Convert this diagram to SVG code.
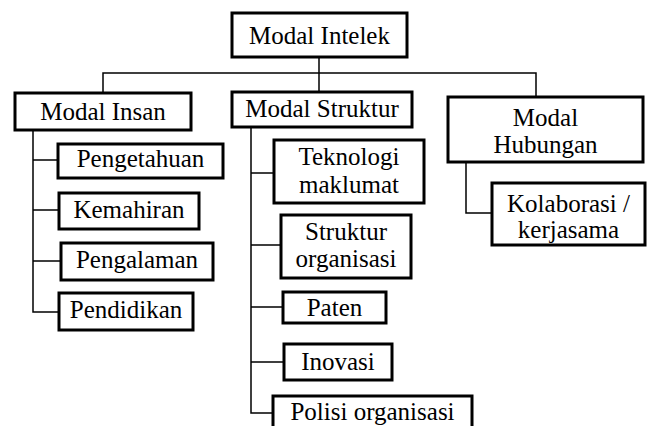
<svg xmlns="http://www.w3.org/2000/svg" width="657" height="426" viewBox="0 0 657 426">
<style>
.box{fill:#fff;stroke:#000;stroke-width:3}
.ln{fill:none;stroke:#000;stroke-width:1.5}
.t{font-family:Liberation Serif,Tinos,Times New Roman,Times,DejaVu Serif,serif;font-size:25px;fill:#000;text-anchor:middle}
</style>
<rect width="657" height="426" fill="#fff"/>
<g id="connectors">
<path class="ln" d="M319,57 V92 M103,93 V73 H536 V97"/>
<path class="ln" d="M33,130 V312 H59 M33,160 H58 M33,210 H59 M33,261 H61"/>
<path class="ln" d="M251,127 V413 H273 M251,173 H274 M251,245 H281 M251,307 H283 M251,362 H284"/>
<path class="ln" d="M466,162 V213 H492"/>
</g>
<g id="modal-intelek"><rect class="box" x="232" y="13" width="175" height="44"/><text class="t" font-family="Liberation Serif" x="319.5" y="44">Modal Intelek</text></g>
<g id="modal-insan"><rect class="box" x="15" y="93" width="176" height="37"/><text class="t" font-family="Liberation Serif" x="103" y="120">Modal Insan</text></g>
<g id="modal-struktur"><rect class="box" x="232" y="92" width="180" height="35"/><text class="t" font-family="Liberation Serif" x="322" y="117">Modal Struktur</text></g>
<g id="modal-hubungan"><rect class="box" x="448" y="97" width="195" height="65"/><text class="t" font-family="Liberation Serif" x="545.5" y="126">Modal</text><text class="t" font-family="Liberation Serif" x="545.5" y="153">Hubungan</text></g>
<g id="pengetahuan"><rect class="box" x="58" y="144" width="165" height="34"/><text class="t" font-family="Liberation Serif" x="140.5" y="167">Pengetahuan</text></g>
<g id="kemahiran"><rect class="box" x="59" y="193" width="140" height="36"/><text class="t" font-family="Liberation Serif" x="129" y="218">Kemahiran</text></g>
<g id="pengalaman"><rect class="box" x="61" y="243" width="152" height="37"/><text class="t" font-family="Liberation Serif" x="137" y="268">Pengalaman</text></g>
<g id="pendidikan"><rect class="box" x="59" y="293" width="134" height="37"/><text class="t" font-family="Liberation Serif" x="126" y="318">Pendidikan</text></g>
<g id="teknologi"><rect class="box" x="274" y="140" width="150" height="63"/><text class="t" font-family="Liberation Serif" x="349" y="165">Teknologi</text><text class="t" font-family="Liberation Serif" x="349" y="193">maklumat</text></g>
<g id="struktur-organisasi"><rect class="box" x="281" y="215" width="130" height="63"/><text class="t" font-family="Liberation Serif" x="346" y="240">Struktur</text><text class="t" font-family="Liberation Serif" x="346" y="267">organisasi</text></g>
<g id="paten"><rect class="box" x="283" y="292" width="103" height="31"/><text class="t" font-family="Liberation Serif" x="334.5" y="316">Paten</text></g>
<g id="inovasi"><rect class="box" x="284" y="344" width="108" height="36"/><text class="t" font-family="Liberation Serif" x="338" y="370">Inovasi</text></g>
<g id="polisi"><rect class="box" x="273" y="396" width="199" height="40"/><text class="t" font-family="Liberation Serif" x="372.5" y="420">Polisi organisasi</text></g>
<g id="kolaborasi"><rect class="box" x="492" y="183" width="153" height="62"/><text class="t" font-family="Liberation Serif" x="568.5" y="212">Kolaborasi /</text><text class="t" font-family="Liberation Serif" x="568.5" y="238">kerjasama</text></g>
</svg>
